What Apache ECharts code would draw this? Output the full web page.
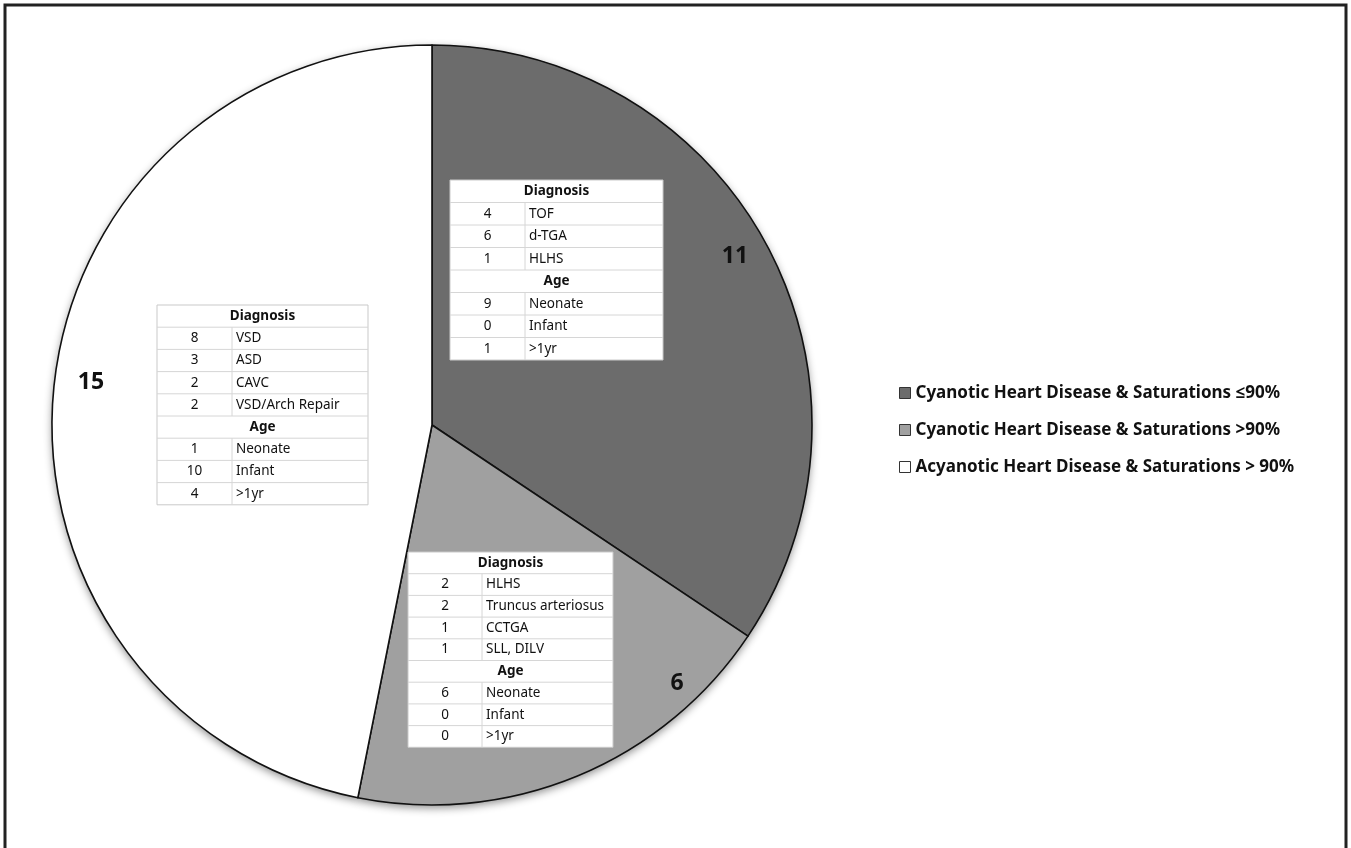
<!DOCTYPE html>
<html>
<head>
<meta charset="utf-8">
<title>Heart disease and saturation groups</title>
<script src="https://cdn.jsdelivr.net/npm/echarts@6/dist/echarts.min.js"></script>
<style>
  html, body { margin: 0; padding: 0; background: #ffffff; }
  #chart { width: 1351px; height: 848px; }
</style>
</head>
<body>
<div id="chart"></div>
<script>
// Patient groups shown as pie slices
const groupNames = [
  'Cyanotic Heart Disease & Saturations \u226490%',
  'Cyanotic Heart Disease & Saturations >90%',
  'Acyanotic Heart Disease & Saturations > 90%'
];
const groupCounts = [11, 6, 15];
const groupColors = ['#6c6c6c', '#a0a0a0', '#ffffff'];

// Breakdown tables per group
const ageLabels = ['Neonate', 'Infant', '>1yr'];

const cyanLowDiagnoses = ['TOF', 'd-TGA', 'HLHS'];
const cyanLowDiagnosisCounts = [4, 6, 1];
const cyanLowAgeCounts = [9, 0, 1];

const cyanHighDiagnoses = ['HLHS', 'Truncus arteriosus', 'CCTGA', 'SLL, DILV'];
const cyanHighDiagnosisCounts = [2, 2, 1, 1];
const cyanHighAgeCounts = [6, 0, 0];

const acyanDiagnoses = ['VSD', 'ASD', 'CAVC', 'VSD/Arch Repair'];
const acyanDiagnosisCounts = [8, 3, 2, 2];
const acyanAgeCounts = [1, 10, 4];

// Layout of the tables and slice labels
const tableBoxes = [
  { x: 450, y: 180, w: 213, colW: 75, rowH: 22.5 },
  { x: 408, y: 552, w: 205, colW: 74, rowH: 21.7 },
  { x: 157, y: 305, w: 211, colW: 75, rowH: 22.2 }
];
const labelSpots = [[735, 256], [677, 683], [91, 382]];

const tableFont = '"Noto Sans", "Open Sans", sans-serif';
const TABLE_Z = 100;

function buildTable(box, names, counts, ages) {
  const rows = [];
  rows.push({ header: 'Diagnosis' });
  names.forEach((n, i) => rows.push({ count: counts[i], name: n }));
  rows.push({ header: 'Age' });
  ageLabels.forEach((n, i) => rows.push({ count: ages[i], name: n }));

  const children = [];
  const h = box.rowH * rows.length;
  children.push({
    type: 'rect', z: TABLE_Z,
    shape: { x: 0, y: 0, width: box.w, height: h },
    style: { fill: '#ffffff', stroke: '#c9c9c9', lineWidth: 1 }
  });
  rows.forEach((r, i) => {
    const top = i * box.rowH;
    if (i > 0) {
      children.push({
        type: 'line', z: TABLE_Z + 1,
        shape: { x1: 0, y1: top, x2: box.w, y2: top },
        style: { stroke: '#d6d6d6', lineWidth: 1 }
      });
    }
    if (r.header) {
      children.push({
        type: 'text', z: TABLE_Z + 2,
        x: box.w / 2, y: top + box.rowH / 2,
        style: {
          text: r.header, fill: '#111', align: 'center', verticalAlign: 'middle',
          font: 'bold 13.5px ' + tableFont
        }
      });
    } else {
      children.push({
        type: 'line', z: TABLE_Z + 1,
        shape: { x1: box.colW, y1: top, x2: box.colW, y2: top + box.rowH },
        style: { stroke: '#d6d6d6', lineWidth: 1 }
      });
      children.push({
        type: 'text', z: TABLE_Z + 2,
        x: box.colW / 2, y: top + box.rowH / 2,
        style: {
          text: String(r.count), fill: '#111', align: 'center', verticalAlign: 'middle',
          font: '13.5px ' + tableFont
        }
      });
      children.push({
        type: 'text', z: TABLE_Z + 2,
        x: box.colW + 4, y: top + box.rowH / 2,
        style: {
          text: r.name, fill: '#111', align: 'left', verticalAlign: 'middle',
          font: '13.5px ' + tableFont
        }
      });
    }
  });
  return { type: 'group', x: box.x, y: box.y, children: children };
}

const pieData = groupNames.map((n, i) => ({
  name: n, value: groupCounts[i], itemStyle: { color: groupColors[i] }
}));

const chart = echarts.init(document.getElementById('chart'), null, { renderer: 'canvas' });

chart.setOption({
  backgroundColor: '#ffffff',
  animation: false,
  legend: {
    orient: 'vertical',
    left: 899,
    top: 383,
    padding: 0,
    itemWidth: 11,
    itemHeight: 11,
    itemGap: 17,
    icon: 'rect',
    selectedMode: false,
    itemStyle: { borderColor: '#333333', borderWidth: 1 },
    textStyle: {
      fontFamily: '"Noto Sans", "Open Sans", sans-serif',
      fontWeight: 'bold',
      fontSize: 17,
      color: '#111111',
      lineHeight: 20
    },
    data: groupNames
  },
  series: [
    {
      // soft drop shadow beneath the pie
      type: 'pie',
      silent: true,
      center: [432, 425],
      radius: 380,
      startAngle: 90,
      clockwise: true,
      z: 1,
      label: { show: false },
      labelLine: { show: false },
      itemStyle: {
        borderWidth: 0,
        shadowBlur: 8,
        shadowOffsetY: 3,
        shadowColor: 'rgba(0,0,0,0.45)'
      },
      data: pieData
    },
    {
      type: 'pie',
      center: [432, 425],
      radius: 380,
      startAngle: 90,
      clockwise: true,
      z: 2,
      emphasis: { disabled: true },
      itemStyle: { borderColor: '#111111', borderWidth: 1.6 },
      label: {
        show: true,
        position: 'inside',
        formatter: '{c}',
        fontFamily: '"Noto Sans", "Open Sans", sans-serif',
        fontWeight: 'bold',
        fontSize: 23,
        color: '#111111'
      },
      labelLine: { show: false },
      labelLayout: function (params) {
        const p = labelSpots[params.dataIndex];
        return { x: p[0], y: p[1], align: 'center', verticalAlign: 'middle' };
      },
      data: pieData
    }
  ],
  graphic: [
    {
      type: 'rect',
      z: 200,
      silent: true,
      shape: { x: 5, y: 5, width: 1341, height: 860 },
      style: { fill: 'none', stroke: '#222222', lineWidth: 3 }
    },
    buildTable(tableBoxes[0], cyanLowDiagnoses, cyanLowDiagnosisCounts, cyanLowAgeCounts),
    buildTable(tableBoxes[1], cyanHighDiagnoses, cyanHighDiagnosisCounts, cyanHighAgeCounts),
    buildTable(tableBoxes[2], acyanDiagnoses, acyanDiagnosisCounts, acyanAgeCounts)
  ]
});
</script>
</body>
</html>
